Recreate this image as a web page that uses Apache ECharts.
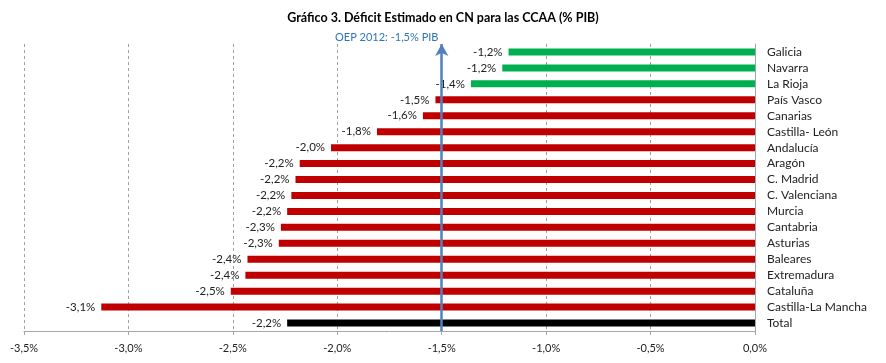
<!DOCTYPE html>
<html>
<head>
<meta charset="utf-8">
<script src="https://cdn.jsdelivr.net/npm/echarts@6/dist/echarts.min.js"></script>
<style>html,body{margin:0;padding:0;background:#fff}#c{width:886px;height:363px}</style>
</head>
<body>
<div id="c"></div>
<script>
var categories = ['Galicia','Navarra','La Rioja','País Vasco','Canarias','Castilla- León','Andalucía','Aragón','C. Madrid','C. Valenciana','Murcia','Cantabria','Asturias','Baleares','Extremadura','Cataluña','Castilla-La Mancha','Total'];
var values = [-1.18,-1.21,-1.36,-1.53,-1.59,-1.81,-2.03,-2.18,-2.20,-2.22,-2.24,-2.27,-2.28,-2.43,-2.44,-2.51,-3.13,-2.24];
var xTicks = [-3.5,-3.0,-2.5,-2.0,-1.5,-1.0,-0.5,0.0];
var oepTarget = -1.5;
var oepLabel = 'OEP 2012: -1,5% PIB';
var titleText = 'Gráfico 3. Déficit Estimado en CN para las CCAA (% PIB)';

var FONT = 'Lato';
function fmt(v){ return v.toFixed(1).replace('.', ',') + '%'; }
function barColor(name, v){
  if (name === 'Total') return '#000000';
  return v > oepTarget ? '#00b050' : '#c00000';
}

var chart = echarts.init(document.getElementById('c'));
chart.setOption({
  animation: false,
  textStyle: {fontFamily: FONT},
  title: {
    text: titleText, left: 'center', top: 6,
    textStyle: {fontFamily: FONT, fontSize: 12.5, fontWeight: 'bold', color: '#000'}
  },
  grid: {left: 24, right: 131, top: 44, bottom: 32, containLabel: false},
  xAxis: {
    type: 'value', min: xTicks[0], max: xTicks[xTicks.length-1], interval: 0.5,
    axisLine: {show: true, onZero: false, lineStyle: {color: '#a6a6a6'}},
    axisTick: {show: true, length: 4, lineStyle: {color: '#a6a6a6'}},
    axisLabel: {fontFamily: FONT, fontSize: 11, color: '#222', margin: 12, formatter: function(v){ return fmt(v); }},
    splitLine: {show: true, lineStyle: {color: '#a0a0a0', type: [3,3], width: 1}}
  },
  yAxis: {
    type: 'category', data: categories, inverse: true, position: 'right',
    axisLine: {show: true, lineStyle: {color: '#a6a6a6'}},
    axisTick: {show: false},
    axisLabel: {fontFamily: FONT, fontSize: 12, color: '#222', margin: 12, align: 'left'},
    splitLine: {show: false}
  },
  series: [{
    type: 'bar',
    barWidth: 7,
    data: values.map(function(v, i){
      return {value: v, itemStyle: {color: barColor(categories[i], v)}};
    }),
    label: {
      show: true, position: 'left', distance: 6,
      fontFamily: FONT, fontSize: 11.5, color: '#222',
      formatter: function(p){ return fmt(p.value); }
    },
    markLine: {
      silent: true,
      symbol: ['arrow', 'none'],
      symbolSize: [10, 12],
      lineStyle: {color: '#4f81bd', width: 2.5, type: 'solid'},
      label: {
        show: true, position: 'start', formatter: oepLabel,
        fontFamily: FONT, fontSize: 11, color: '#2e75b6',
        offset: [-55, 4]
      },
      data: [{xAxis: oepTarget}]
    }
  }]
});
</script>
</body>
</html>
